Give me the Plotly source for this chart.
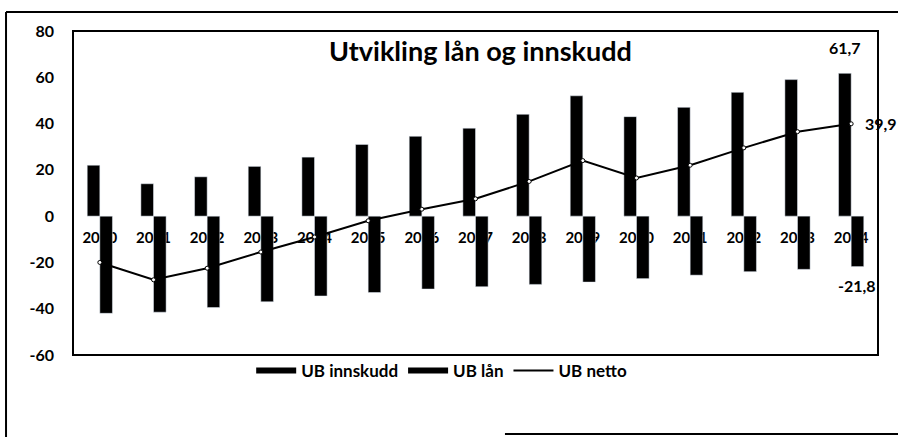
import plotly.graph_objects as go

years = [str(y) for y in range(2000, 2015)]
innskudd = [22, 14, 17, 21.5, 25.5, 31, 34.5, 38, 44, 52, 43, 47, 53.5, 59, 61.7]
laan = [-42, -41.5, -39.5, -37, -34.5, -33, -31.5, -30.5, -29.5, -28.5, -27, -25.5, -24, -23, -21.8]
netto = [-20, -27.5, -22.5, -15.5, -9, -2, 3, 7.5, 15, 24, 16.5, 22, 29.5, 36.5, 39.9]
ytick_vals = [-60, -40, -20, 0, 20, 40, 60, 80]
ytick_text = ["-60", "-40", "-20", "0", "20", "40", "60", "80"]

FONT = "Lato"
BLACK = "#000000"

def fmt(v):
    return f"{v:.1f}".replace(".", ",")

fig = go.Figure()
fig.add_trace(go.Bar(x=years, y=innskudd, name="UB innskudd", marker=dict(color=BLACK),
                     showlegend=False, legendgroup="inn"))
fig.add_trace(go.Bar(x=years, y=laan, name="UB lån", marker=dict(color=BLACK),
                     showlegend=False, legendgroup="laan"))
fig.add_trace(go.Scatter(x=years, y=netto, name="UB netto", mode="lines+markers",
                         line=dict(color=BLACK, width=2),
                         marker=dict(symbol="circle", size=4, color="white",
                                     line=dict(color=BLACK, width=1)),
                         showlegend=False, legendgroup="netto"))
# legend entries (no marks drawn)
fig.add_trace(go.Scatter(x=[years[0]], y=[None], mode="lines", name="UB innskudd",
                         line=dict(color=BLACK, width=6), legendgroup="inn"))
fig.add_trace(go.Scatter(x=[years[0]], y=[None], mode="lines", name="UB lån",
                         line=dict(color=BLACK, width=6), legendgroup="laan"))
fig.add_trace(go.Scatter(x=[years[0]], y=[None], mode="lines", name="UB netto",
                         line=dict(color=BLACK, width=2), legendgroup="netto"))

fig.update_layout(
    width=898, height=437,
    margin=dict(l=73, r=20, t=31, b=82),
    paper_bgcolor="white", plot_bgcolor="white",
    barmode="group", bargap=0.53, bargroupgap=0,
    font=dict(family=FONT, color=BLACK, size=14, weight="bold"),
    legend=dict(orientation="h", x=0.458, xanchor="center", y=-0.049, yanchor="middle",
                font=dict(family=FONT, size=17, weight="bold"), itemwidth=40,
                bgcolor="rgba(0,0,0,0)"),
    xaxis=dict(type="category", categoryorder="array", categoryarray=years,
               range=[-0.5, len(years) - 0.5], autorange=False,
               anchor="free", position=60 / 140, showline=False,
               showgrid=False, zeroline=False, ticks="", layer="below traces",
               ticklabelstandoff=11,
               tickfont=dict(family=FONT, size=15, weight="bold")),
    yaxis=dict(range=[-60, 80], tickvals=ytick_vals, ticktext=ytick_text,
               showgrid=False, zeroline=False, showline=False, ticks="",
               ticklabelstandoff=18,
               tickfont=dict(family=FONT, size=16, weight="bold")),
)

# plot-area border
fig.add_shape(type="rect", xref="paper", yref="paper", x0=0, x1=1, y0=0, y1=1,
              line=dict(color=BLACK, width=2))
# outer chart frame (visible parts)
fig.add_shape(type="line", xref="paper", yref="paper", x0=-0.0832, x1=1.03, y0=1.0586, y1=1.0586,
              line=dict(color=BLACK, width=2))
fig.add_shape(type="line", xref="paper", yref="paper", x0=-0.0832, x1=-0.0832, y0=1.0586, y1=-0.26,
              line=dict(color=BLACK, width=2))
fig.add_shape(type="line", xref="paper", yref="paper", x0=0.5366, x1=1.03, y0=-0.2438, y1=-0.2438,
              line=dict(color=BLACK, width=2))

# title
fig.add_annotation(text="Utvikling lån og innskudd", xref="paper", yref="paper",
                   x=0.506, y=0.941, xanchor="center", yanchor="middle", showarrow=False,
                   font=dict(family=FONT, size=27, weight="bold", color=BLACK))

# data labels for the last year (x given as category index)
li = len(years) - 1
fig.add_annotation(text=fmt(innskudd[li]), x=li, y=innskudd[li], xref="x", yref="y",
                   xshift=-6.3, yshift=26, showarrow=False, yanchor="middle",
                   font=dict(family=FONT, size=16, weight="bold"))
fig.add_annotation(text=fmt(netto[li]), x=li, y=netto[li], xref="x", yref="y",
                   xshift=12, showarrow=False, xanchor="left", yanchor="middle",
                   font=dict(family=FONT, size=16, weight="bold"))
fig.add_annotation(text=fmt(laan[li]), x=li, y=laan[li], xref="x", yref="y",
                   xshift=6.3, yshift=-19, showarrow=False, yanchor="middle",
                   font=dict(family=FONT, size=16, weight="bold"))

fig.write_html("out.html", config={"displayModeBar": False},
               post_script="document.body.style.margin='0';")
